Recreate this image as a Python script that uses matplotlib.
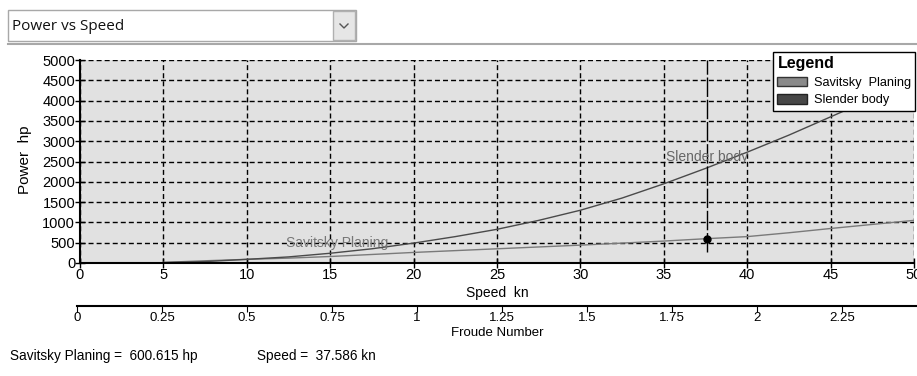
import matplotlib
matplotlib.use("Agg")
import matplotlib.pyplot as plt
from matplotlib.patches import Patch, Rectangle
from matplotlib.lines import Line2D

plt.rcParams["font.family"] = ["Liberation Sans", "DejaVu Sans"]

# data
speed = [5, 7.5, 10, 12.5, 15, 17.5, 20, 22.5, 25, 27.5, 30, 32.5, 35, 37.5,
         40, 42.5, 45, 47.5, 50]
savitsky = [15, 55, 90, 120, 160, 210, 260, 305, 350, 395, 440, 490, 540, 598,
            650, 745, 850, 950, 1050]
slender = [10, 35, 90, 150, 240, 350, 490, 650, 830, 1050, 1300, 1600, 1950,
           2330, 2730, 3150, 3600, 4050, 4550]
cursor_speed = 37.586
cursor_power = 600.615
froude_ticks = [0, 0.25, 0.5, 0.75, 1, 1.25, 1.5, 1.75, 2, 2.25]

W, H = 917, 376
fig = plt.figure(figsize=(W / 100, H / 100), dpi=100)


def box(x0, y0, x1, y1):
    # pixel box (top-left origin) -> figure fraction rect
    return [x0 / W, 1 - y1 / H, (x1 - x0) / W, (y1 - y0) / H]


# header combo box
fig.patches.append(Rectangle((8 / W, 1 - 41 / H), 348 / W, 31 / H,
                             transform=fig.transFigure, facecolor="white",
                             edgecolor="#a8a8a8", lw=1))
fig.patches.append(Rectangle((333 / W, 1 - 40 / H), 22 / W, 29 / H,
                             transform=fig.transFigure, facecolor="#e6e6e6",
                             edgecolor="#b0b0b0", lw=1))
fig.lines.append(Line2D([340 / W, 344 / W, 348 / W],
                        [1 - 24 / H, 1 - 28 / H, 1 - 24 / H],
                        transform=fig.transFigure, color="#555555", lw=1))
fig.text(12 / W, 1 - 26 / H, "Power vs Speed", fontsize=11, va="center",
         family=["Open Sans", "DejaVu Sans"], color="#111111")
fig.lines.append(Line2D([8 / W, 1], [1 - 44 / H, 1 - 44 / H],
                        transform=fig.transFigure, color="#a8a8a8", lw=1.5))

# main axes
ax = fig.add_axes(box(80, 60, 914, 263))
ax.set_facecolor("#e1e1e1")
ax.plot(speed, savitsky, color="#7a7a7a", lw=1)
ax.plot(speed, slender, color="#4a4a4a", lw=1)
ax.plot([cursor_speed, cursor_speed], [270, 5000], color="black", lw=1,
        dashes=(14, 2))
ax.plot([cursor_speed], [cursor_power], "o", color="black", ms=5)
ax.text(15.4, 490, "Savitsky Planing", color="#777777", fontsize=10,
        ha="center", va="center")
ax.text(37.6, 2610, "Slender body", color="#666666", fontsize=10,
        ha="center", va="center")

ax.set_xlim(0, 50)
ax.set_ylim(0, 5000)
ax.set_xticks(range(0, 51, 5))
ax.set_yticks(range(0, 5001, 500))
ax.grid(True, color="black", lw=1, linestyle=(0, (3.6, 2.2)))
ax.set_axisbelow(True)
for s in ["top", "right"]:
    ax.spines[s].set_visible(False)
for s in ["left", "bottom"]:
    ax.spines[s].set_linewidth(1.5)
ax.tick_params(direction="inout", length=7, width=1, labelsize=10.5, pad=0)

fig.text(25 / W, 1 - 160 / H, "Power  hp", rotation=90, fontsize=11,
         ha="center", va="center")
fig.text(497 / W, 1 - 293 / H, "Speed  kn", fontsize=10, ha="center",
         va="center")

# Froude number axis
fx = fig.add_axes(box(77, 290, 927, 306))
fx.set_xlim(0, 2.5)
fx.set_ylim(0, 1)
fx.patch.set_visible(False)
for s in ["top", "right", "left"]:
    fx.spines[s].set_visible(False)
fx.spines["bottom"].set_linewidth(1.5)
fx.set_yticks([])
fx.set_xticks(froude_ticks)
fx.set_xticklabels([f"{v:g}" for v in froude_ticks])
fx.tick_params(axis="x", direction="out", length=4, labelsize=9.5, pad=0)
fig.text(497 / W, 1 - 333 / H, "Froude Number", fontsize=9.5, ha="center",
         va="center")

# legend
handles = [Patch(facecolor="#8a8a8a", edgecolor="#333333", label="Savitsky  Planing"),
           Patch(facecolor="#474747", edgecolor="#222222", label="Slender body")]
leg = fig.legend(handles=handles, title="Legend", loc="upper left",
                 bbox_to_anchor=(773 / W, 1 - 52 / H), fontsize=9.2,
                 title_fontproperties={"weight": "bold", "size": 11.5},
                 frameon=True, fancybox=False, edgecolor="black",
                 framealpha=1, borderpad=0.35, handlelength=2.3,
                 handleheight=0.8, handletextpad=0.55, labelspacing=0.4,
                 alignment="left", borderaxespad=0)
leg.get_frame().set_linewidth(1)

# status line
fig.text(10 / W, 1 - 356 / H, "Savitsky Planing =  600.615 hp", fontsize=9.8,
         va="center")
fig.text(257 / W, 1 - 356 / H, "Speed =  37.586 kn", fontsize=9.8, va="center")

fig.savefig("out.png", dpi=100)
